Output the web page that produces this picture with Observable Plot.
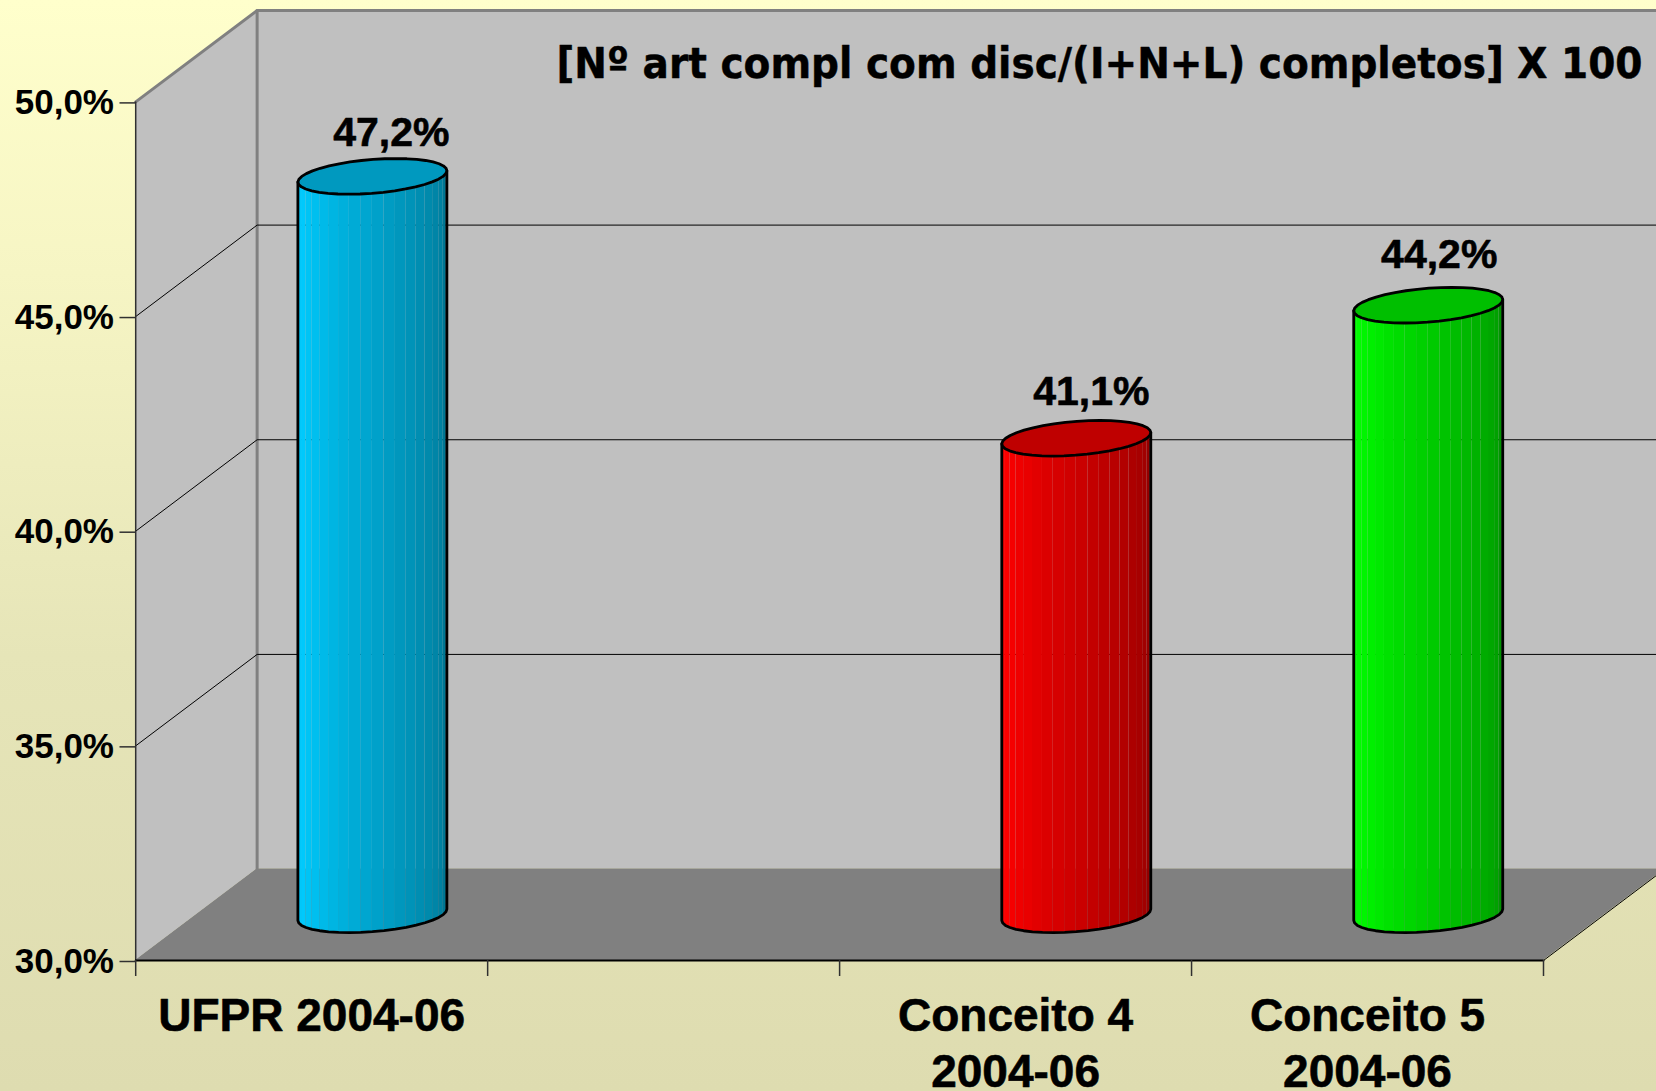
<!DOCTYPE html>
<html>
<head>
<meta charset="utf-8">
<style>
html,body{margin:0;padding:0;width:1656px;height:1091px;overflow:hidden;
background:linear-gradient(180deg,#ffffcc 0%,#f6f5c4 25%,#e6e5b8 60%,#dedcb0 100%);}
svg{display:block;overflow:hidden}
</style>
<script src="https://cdn.jsdelivr.net/npm/d3@7"></script>
<script src="https://cdn.jsdelivr.net/npm/@observablehq/plot@0.6"></script>
</head>
<body>
<script>
// data
const categories = ["UFPR 2004-06", "", "Conceito 4\n2004-06", "Conceito 5\n2004-06"];
const values = [47.2, null, 41.1, 44.2];
const baseColors = ["#00ccff", null, "#ff0000", "#00ff00"];
const yTicks = [30, 35, 40, 45, 50];
const gridValues = [35, 40, 45];
const titleText = "[Nº art compl com disc/(I+N+L) completos] X 100";

// oblique projection: one unit of depth in slot units / value units
const depthX = 0.345, depthY = 2.13;
const yMin = 30, yMax = 50, slots = categories.length;
const radiusX = 0.2007, radiusDepth = 0.195;   // cylinder radii
const bandCount = 20;
const shadeU = [0, 0.1, 0.4, 0.63, 0.88, 1];
const shadeF = [0.92, 1, 0.85, 0.74, 0.63, 0.5];
const labelNudge = [[19, 0], null, [15, -2], [11, -6]];

const comma = (v) => v.toFixed(1).replace(".", ",") + "%";
const font = "'Liberation Sans', Arial, sans-serif";
const scaled = (c, f) => { const r = d3.rgb(c); return d3.rgb(r.r * f, r.g * f, r.b * f).formatRgb(); };
const shade = d3.scaleLinear().domain(shadeU).range(shadeF);

const phi = Math.atan2(radiusDepth * depthX, radiusX);
function rim(i, t) {
  const depth = 0.5 + radiusDepth * Math.sin(t);
  return {x: i + 0.5 + radiusX * Math.cos(t) + depth * depthX, lift: depth * depthY};
}

// walls
const side = [0, 1].map((d) => ({x: d * depthX, y1: yMin + d * depthY, y2: yMax + d * depthY}));
const back = [0, slots].map((s) => ({x: s + depthX, y1: yMin + depthY, y2: yMax + depthY}));
const floor = [0, 1].map((d) => ({x1: d * depthX, x2: slots + d * depthX, y: yMin + d * depthY}));

const marks = [
  Plot.area(side, {x1: "x", y1: "y1", y2: "y2", fill: "#c0c0c0"}),
  Plot.area(back, {x1: "x", y1: "y1", y2: "y2", fill: "#c0c0c0"}),
  Plot.area(floor, {x1: "x1", x2: "x2", y1: "y", fill: "#808080"}),
  Plot.line([[0, yMax], [depthX, yMax + depthY], [slots + depthX, yMax + depthY]], {stroke: "#808080", strokeWidth: 3}),
  Plot.line([[depthX, yMax + depthY], [depthX, yMin + depthY]], {stroke: "#808080", strokeWidth: 3}),
  Plot.line([[0, yMin], [depthX, yMin + depthY]], {stroke: "#808080", strokeWidth: 1}),
  ...gridValues.map((g) => Plot.line([[0, g], [depthX, g + depthY], [slots + depthX, g + depthY]], {stroke: "#000", strokeWidth: 1})),
  Plot.line([[slots, yMin], [slots + depthX, yMin + depthY]], {stroke: "#000", strokeWidth: 1}),
  Plot.line([[0, yMin], [0, yMax]], {stroke: "#303030", strokeWidth: 1.5}),
  Plot.line([[0, yMin], [slots, yMin]], {stroke: "#000", strokeWidth: 2}),
  Plot.axisY({ticks: yTicks, tickSize: 15.7, tickPadding: 6, tickFormat: comma, label: null, stroke: "#303030", strokeWidth: 1.5,
    fontSize: 35, fontWeight: "bold", fontFamily: font, fill: "#000", dy: 1}),
  Plot.axisX({ticks: d3.range(slots + 1), tickSize: 16, tickFormat: () => "", label: null, stroke: "#303030", strokeWidth: 1.5})
];

// cylinders
values.forEach((v, i) => {
  if (v == null) return;
  const base = baseColors[i];
  const start = phi + Math.PI, step = Math.PI / bandCount;
  const bands = [];
  for (let k = 0; k < bandCount; k++) {
    const color = scaled(base, shade((k + 0.5) / bandCount));
    for (const t of [start + k * step, start + (k + 1) * step]) {
      const p = rim(i, t);
      bands.push({band: k, x: p.x, top: v + p.lift, bottom: yMin + p.lift, color});
    }
  }
  marks.push(Plot.area(bands, {x1: "x", y1: "bottom", y2: "top", z: "band", fill: "color"}));

  const front = d3.range(bandCount + 1).map((k) => rim(i, start + k * step));
  const outline = [
    [front[0].x, v + front[0].lift],
    ...front.map((p) => [p.x, yMin + p.lift]),
    [front[bandCount].x, v + front[bandCount].lift]
  ];
  marks.push(Plot.line(outline, {stroke: "#000", strokeWidth: 2.8, curve: "linear"}));

  const cap = d3.range(bandCount * 2 + 1).map((k) => {
    const p = rim(i, k * step);
    return [p.x, v + p.lift];
  });
  marks.push(Plot.area(cap, {x1: (d) => d[0], y1: (d) => d[1], y2: v + depthY / 2, fill: scaled(base, 0.75)}));
  marks.push(Plot.line(cap, {stroke: "#000", strokeWidth: 2.8}));

  marks.push(Plot.text([comma(v)], {
    x: () => i + 0.5 + 0.5 * depthX, y: () => v + depthY / 2,
    dx: labelNudge[i][0], dy: -44 + labelNudge[i][1],
    fontSize: 41, fontWeight: "bold", fontFamily: font, fill: "#000", stroke: "#000", strokeWidth: 0.6
  }));
});

// category labels
marks.push(Plot.text(categories, {
  x: (d, i) => i + 0.5, y: () => yMin, dy: 30.5, lineAnchor: "top", lineHeight: 1.22,
  text: (d) => d, fontSize: 46, fontWeight: "bold", fontFamily: font, fill: "#000", textAnchor: "middle",
  stroke: "#000", strokeWidth: 0.6
}));
// title
marks.push(Plot.text([titleText], {
  frameAnchor: "top-right", dx: 99, dy: -38, lineAnchor: "middle", textAnchor: "end", className: "chart-title",
  fontSize: 43.5, fontWeight: "bold", fontFamily: "'DejaVu Sans', Verdana, sans-serif", fill: "#000",
  stroke: "#000", strokeWidth: 0.5
}));

const chart = Plot.plot({
  width: 1656, height: 1091,
  marginLeft: 135.2, marginRight: 113, marginTop: 101.4, marginBottom: 131,
  x: {domain: [0, slots]},
  y: {domain: [yMin, yMax]},
  style: {background: "transparent", overflow: "hidden"},
  marks
});
document.body.appendChild(chart);
// condense the substitute font to the reference's title width
d3.select(chart).selectAll(".chart-title text").attr("textLength", 1086).attr("lengthAdjust", "spacingAndGlyphs");
</script>
</body>
</html>
